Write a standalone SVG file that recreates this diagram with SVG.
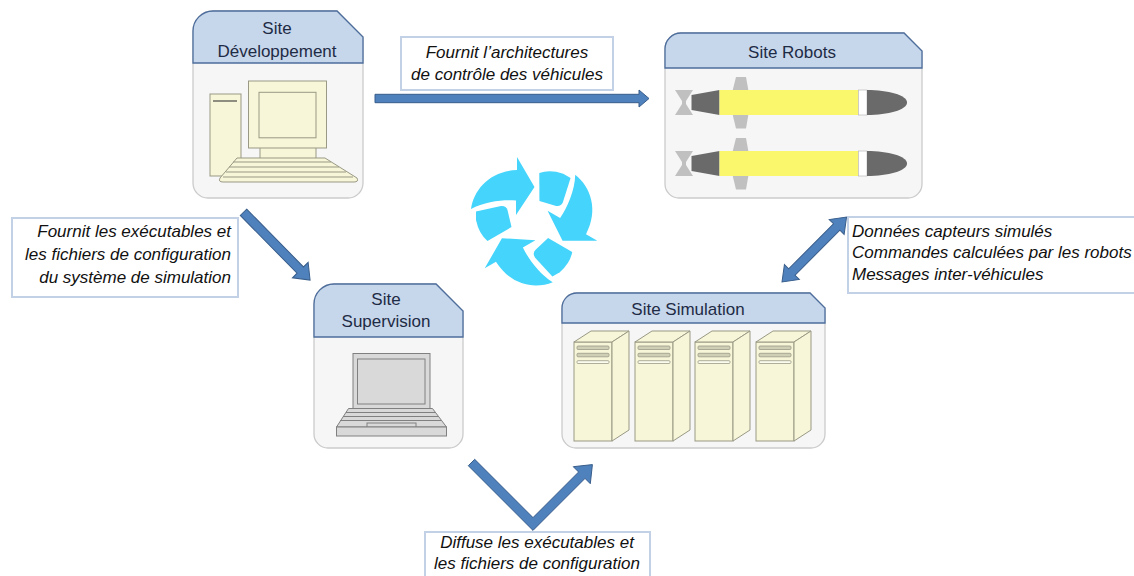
<svg xmlns="http://www.w3.org/2000/svg" xmlns:xlink="http://www.w3.org/1999/xlink" width="1134" height="576" viewBox="0 0 1134 576">
  <style>
    .body { fill: #f6f6f6; stroke: #cbcbcb; stroke-width: 1.3; }
    .head { fill: #c6d6eb; stroke: #4d6d9c; stroke-width: 1.3; }
    .title { font-family: "Liberation Sans", Arial, sans-serif; font-size: 17px; fill: #1e2b45; text-anchor: middle; }
    .note { fill: #ffffff; stroke: #c3d1e6; stroke-width: 2; }
    .label { font-family: "Liberation Sans", Arial, sans-serif; font-size: 17px; font-style: italic; fill: #111111; }
    .cream { fill: #f7f6d8; stroke: #999985; stroke-width: 1; }
    .slot { fill: #cfcfb6; stroke: #9a9a88; stroke-width: 0.8; }
    .slot2 { fill: #fbfbee; stroke: #9a9a88; stroke-width: 0.8; }
    .grey { fill: #d9d9d9; stroke: #808080; stroke-width: 1; }
    .link { fill: #4f81bd; stroke: #385d8a; stroke-width: 1; }
    .dark { fill: #6a6a6a; }
    .fin { fill: #c0c0c0; }
    .cycle { fill: #45d4fb; }
  </style>
  <defs>
    <g id="server">
      <rect class="cream" x="0" y="0" width="38" height="99"/>
      <polygon class="cream" points="0,0 38,0 55,-11 17,-11"/>
      <polygon class="cream" points="38,0 55,-11 55,88 38,99"/>
      <rect class="slot" x="3" y="4" width="32" height="3.5" rx="1"/>
      <rect class="slot" x="3" y="11.3" width="32" height="3.5" rx="1"/>
      <rect class="slot2" x="3" y="18.7" width="32" height="2.8" rx="1"/>
    </g>
    <g id="robot">
      <polygon class="fin" points="736,77 746,77 748.5,91 732.5,91"/>
      <polygon class="fin" points="732.5,114 748.5,114 746,128.5 736,128.5"/>
      <polygon class="fin" points="675,90 693,90 686,101 686,104 693,115 675,115 682,104 682,101"/>
      <polygon class="dark" points="691.5,95 719.5,90 719.5,115 691.5,110"/>
      <rect x="719.5" y="90" width="139" height="25" fill="#faf76c"/>
      <rect x="858.5" y="90" width="8.5" height="25" fill="#ffffff" stroke="#b0b0b0" stroke-width="0.6"/>
      <path class="dark" d="M867,90 C888,90 907,95 907,102.5 C907,110 888,115 867,115 Z"/>
    </g>
    <g id="cycle-unit">
      <path class="cycle" d="M-62,-13 C-59,-33 -43,-51 -16,-52 L-16,-65 L1.5,-35 L-17,-7 L-17,-21.5 C-30,-22.5 -48,-20.5 -62,-13 Z"/>
      <path class="cycle" d="M-57,-10.5 L-32,-16 Q-27,-16.5 -25.5,-12 L-21.5,5 L-45.5,19 Q-54,12 -57,-2 Z"/>
    </g>
  </defs>

  <!-- connectors -->
  <g id="connectors">
    <path class="link" d="M0,-4.2 H264 V-8.5 L274,0 L264,8.5 V4.2 H0 Z" transform="translate(375,98.5)"/>
    <path class="link" d="M0,-4.5 H81 V-11 L95,0 L81,11 V4.5 H0 Z" transform="translate(243.5,212.3) rotate(45.5)"/>
    <path class="link" d="M0,0 L14,-10.5 V-4.5 H77.6 V-10.5 L91.6,0 L77.6,10.5 V4.5 H14 V10.5 Z" transform="translate(782,282) rotate(-45.2)"/>
    <path class="link" d="M474.7,459.3 L533,517.6 L578.6,472 L573.3,466.7 L592.4,464.6 L590.3,483.7 L585,478.4 L533,530.4 L468.3,465.7 Z"/>
  </g>

  <!-- connector labels -->
  <g id="label-architecture">
    <rect class="note" x="401" y="37" width="212" height="53"/>
    <text class="label" x="507" y="58" text-anchor="middle">Fournit l’architectures</text>
    <text class="label" x="507" y="80" text-anchor="middle">de contrôle des véhicules</text>
  </g>
  <g id="label-executables">
    <rect class="note" x="12" y="218" width="226" height="79"/>
    <text class="label" x="231" y="237" text-anchor="end">Fournit les exécutables et</text>
    <text class="label" x="231" y="260" text-anchor="end">les fichiers de configuration</text>
    <text class="label" x="231" y="283" text-anchor="end">du système de simulation</text>
  </g>
  <g id="label-exchanges">
    <rect class="note" x="848" y="217" width="300" height="76"/>
    <text class="label" x="852" y="237">Données capteurs simulés</text>
    <text class="label" x="852" y="258">Commandes calculées par les robots</text>
    <text class="label" x="852" y="280">Messages inter-véhicules</text>
  </g>
  <g id="label-diffusion">
    <rect class="note" x="425" y="532" width="225" height="60"/>
    <text class="label" x="537" y="548" text-anchor="middle">Diffuse les exécutables et</text>
    <text class="label" x="537" y="569" text-anchor="middle">les fichiers de configuration</text>
  </g>

  <!-- cycle symbol -->
  <g id="cycle" transform="translate(533,222)">
    <use xlink:href="#cycle-unit"/>
    <use xlink:href="#cycle-unit" transform="rotate(120)"/>
    <use xlink:href="#cycle-unit" transform="rotate(240)"/>
  </g>

  <!-- Site Développement -->
  <g id="site-developpement">
    <path class="body" d="M193,31 A20,20 0 0 1 213,11 L337,11 L363,37 L363,183 A15,15 0 0 1 348,198 L208,198 A15,15 0 0 1 193,183 Z"/>
    <path class="head" d="M193,63 L193,31 A20,20 0 0 1 213,11 L337,11 L363,37 L363,63 Z"/>
    <text class="title" x="277" y="34">Site</text>
    <text class="title" x="277" y="57">Développement</text>
    <rect class="cream" x="210" y="94" width="31" height="82"/>
    <line x1="213" y1="101" x2="237" y2="101" stroke="#8d8d80" stroke-width="2"/>
    <rect class="cream" x="260" y="147" width="56" height="12"/>
    <rect class="cream" x="248.5" y="81" width="78" height="67"/>
    <rect class="cream" x="259" y="92.3" width="57" height="45.5"/>
    <path class="cream" d="M237,158 L325,158 L357,178 Q359,182 354,182 L223,182 Q218,182 220,178 Z"/>
    <g fill="none" stroke="#999985" stroke-width="1">
      <line x1="233" y1="162" x2="331" y2="162"/>
      <line x1="229" y1="167" x2="339" y2="167"/>
      <line x1="226" y1="172" x2="346" y2="172"/>
      <line x1="223" y1="177" x2="353" y2="177"/>
    </g>
  </g>

  <!-- Site Robots -->
  <g id="site-robots">
    <path class="body" d="M665,49 A16,16 0 0 1 681,33 L904,33 L922,51 L922,184 A14,14 0 0 1 908,198 L679,198 A14,14 0 0 1 665,184 Z"/>
    <path class="head" d="M665,68 L665,49 A16,16 0 0 1 681,33 L904,33 L922,51 L922,68 Z"/>
    <text class="title" x="792" y="58">Site Robots</text>
    <use xlink:href="#robot"/>
    <use xlink:href="#robot" transform="translate(0,61)"/>
  </g>

  <!-- Site Supervision -->
  <g id="site-supervision">
    <path class="body" d="M314,304 A20,20 0 0 1 334,284 L436,284 L463,311 L463,434 A14,14 0 0 1 449,448 L328,448 A14,14 0 0 1 314,434 Z"/>
    <path class="head" d="M314,337 L314,304 A20,20 0 0 1 334,284 L436,284 L463,311 L463,337 Z"/>
    <text class="title" x="386" y="305">Site</text>
    <text class="title" x="386" y="327">Supervision</text>
    <rect class="grey" x="353" y="353.5" width="77" height="55"/>
    <rect class="grey" x="357.5" y="359" width="67.5" height="45" fill="#d2d2d2"/>
    <path class="grey" d="M348.5,408.5 L432.5,408.5 L446.5,427 L336.5,427 Z"/>
    <g stroke="#808080" stroke-width="1">
      <line x1="346" y1="412.5" x2="435" y2="412.5"/>
      <line x1="343" y1="416.5" x2="438" y2="416.5"/>
      <line x1="340" y1="420.5" x2="441" y2="420.5"/>
    </g>
    <rect class="grey" x="367" y="423" width="49" height="4"/>
    <rect class="grey" x="336.5" y="427" width="110" height="9"/>
  </g>

  <!-- Site Simulation -->
  <g id="site-simulation">
    <path class="body" d="M562,308 A15,15 0 0 1 577,293 L810,293 L825,308 L825,434 A14,14 0 0 1 811,448 L576,448 A14,14 0 0 1 562,434 Z"/>
    <path class="head" d="M562,323 L562,308 A15,15 0 0 1 577,293 L810,293 L825,308 L825,323 Z"/>
    <text class="title" x="688" y="315">Site Simulation</text>
    <use xlink:href="#server" transform="translate(574,342)"/>
    <use xlink:href="#server" transform="translate(635,342)"/>
    <use xlink:href="#server" transform="translate(695,342)"/>
    <use xlink:href="#server" transform="translate(756,342)"/>
  </g>
</svg>
